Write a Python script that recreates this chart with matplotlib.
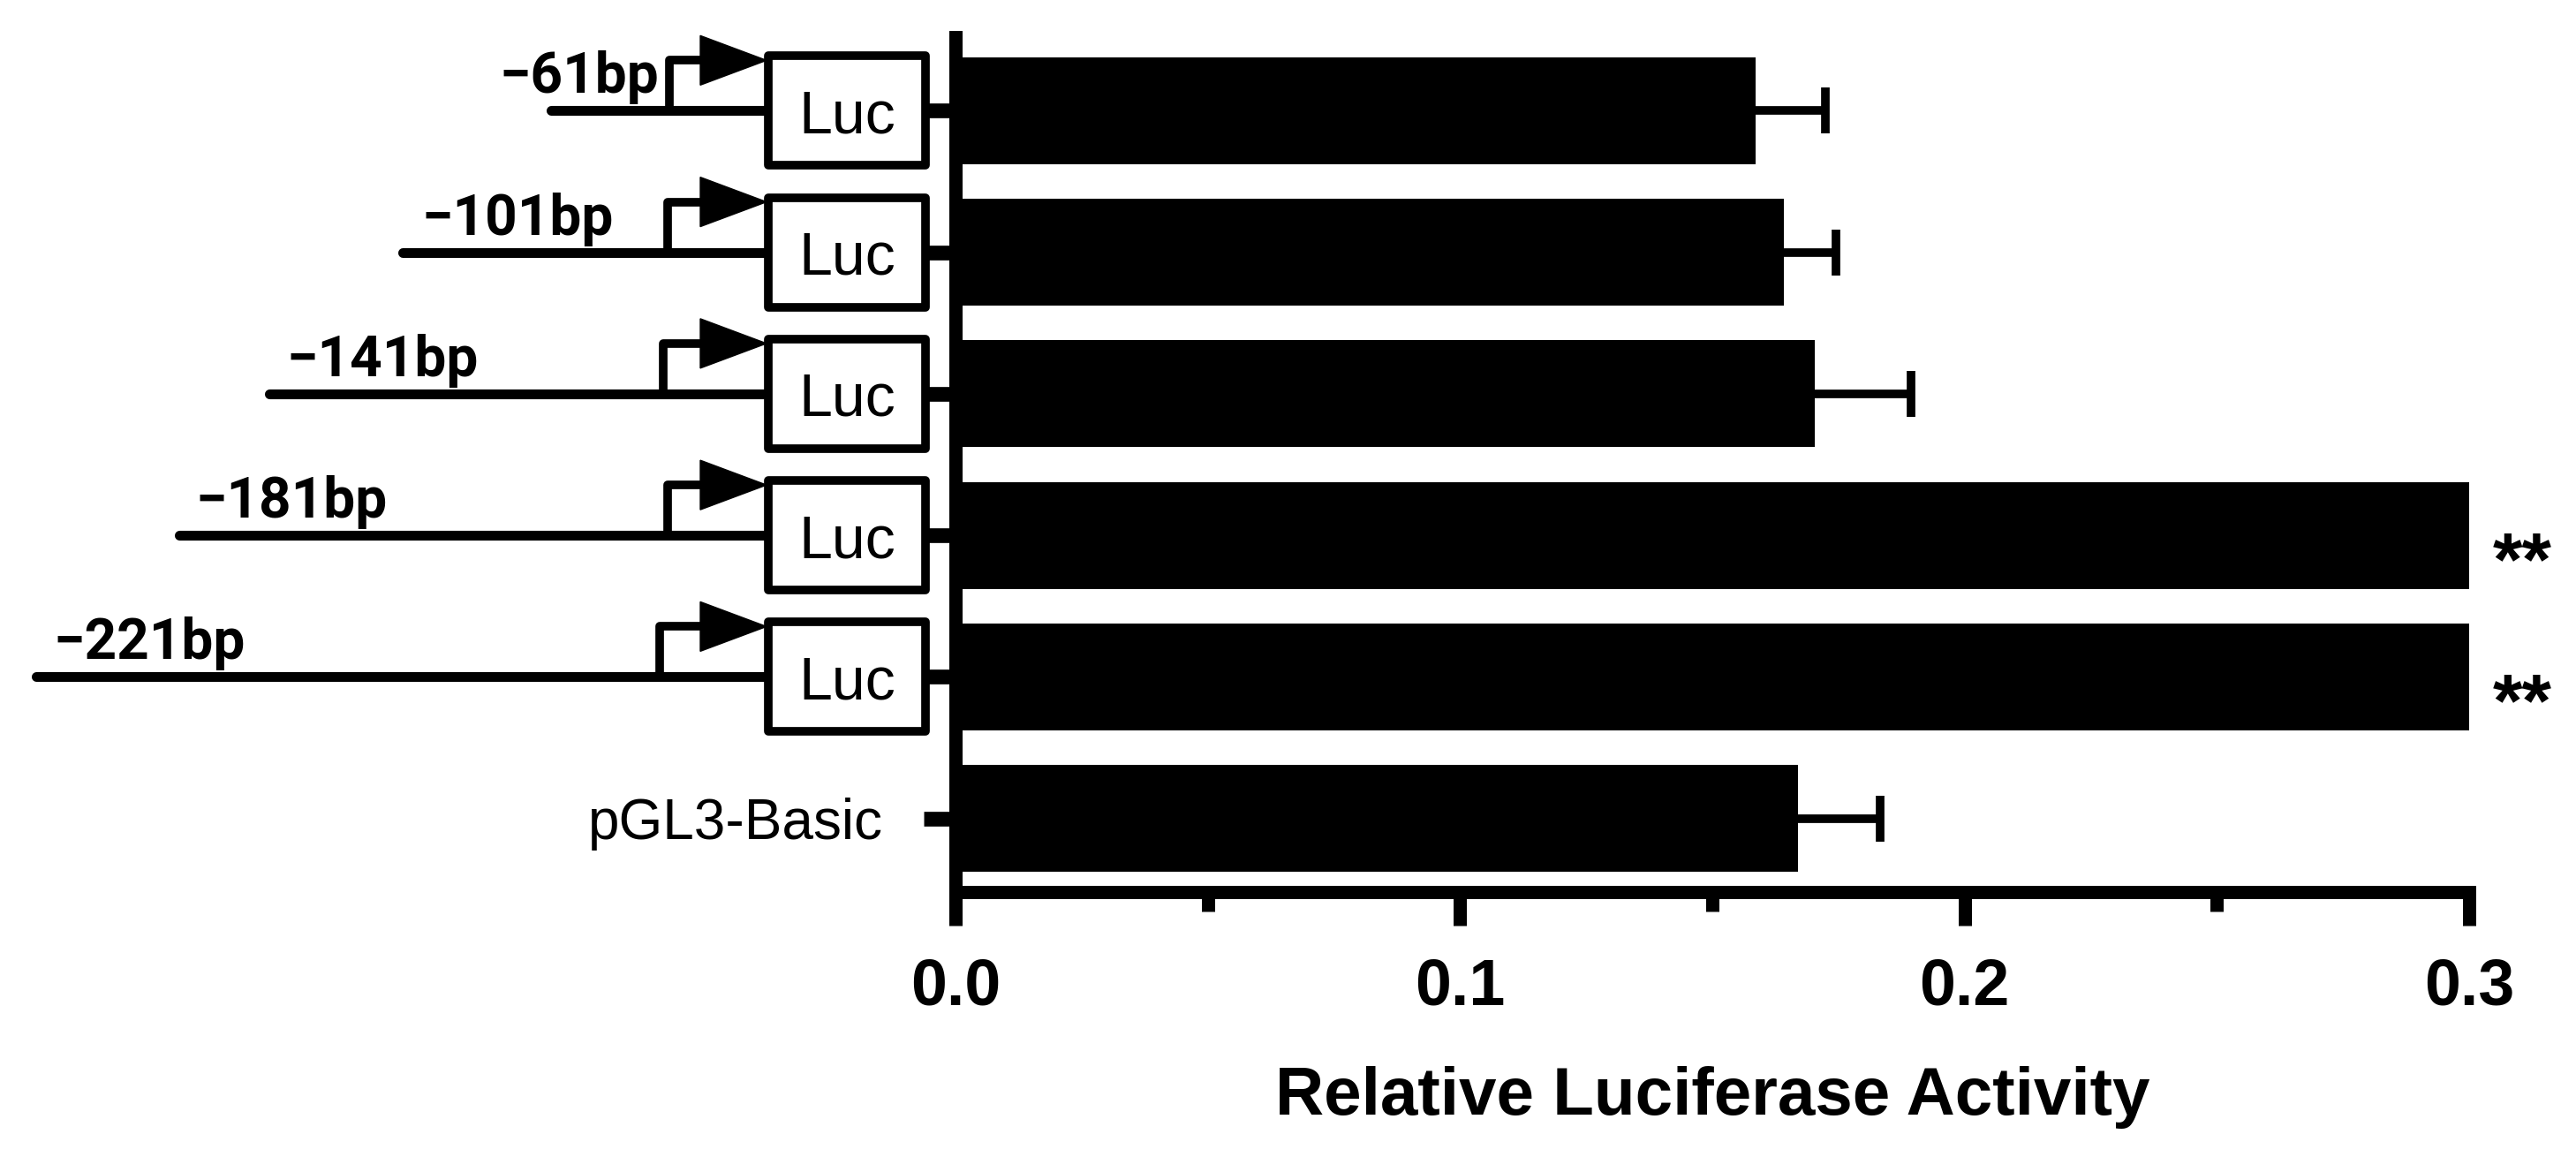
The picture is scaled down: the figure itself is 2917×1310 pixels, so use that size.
import matplotlib
matplotlib.use("Agg")
import matplotlib.pyplot as plt
from matplotlib.patches import Rectangle, Polygon

plt.rcParams['font.family'] = ['Liberation Sans', 'DejaVu Sans']

# ---------------- data ----------------
categories = ['−61bp', '−101bp', '−141bp', '−181bp', '−221bp', 'pGL3-Basic']
values = [0.1586, 0.1642, 0.1703, 0.300, 0.300, 0.1670]
errors = [0.0138, 0.0103, 0.0191, 0.0, 0.0, 0.0163]
significance = ['', '', '', '**', '**', '']
xticks_major = [0.0, 0.1, 0.2, 0.3]
xtick_labels = ['0.0', '0.1', '0.2', '0.3']
xticks_minor = [0.05, 0.15, 0.25]
xlabel = 'Relative Luciferase Activity'
box_text = 'Luc'

# ---------------- layout ----------------
W, H, DPI = 2917, 1310, 100
AX_L, AX_R, AX_T, AX_B = 1082, 2796, 42, 1010   # pixel frame of the plot axes
Y_TOP, Y_BOT = -0.52, 5.52
ROW_PX = (AX_B - AX_T) / (Y_BOT - Y_TOP)         # pixels per category row

# schematic (pixels along x, rows along y)
line_start_px = [624, 456, 305, 203, 41]
label_left_px = [565, 477, 324, 221, 60]
bend_px = [758, 756, 751, 756, 747]
box_left_px, box_right_px = 870, 1048
arrow_base_px, arrow_tip_px = 793, 868

fig = plt.figure(figsize=(W / DPI, H / DPI), dpi=DPI)
fig.patch.set_facecolor('white')

ax = fig.add_axes([AX_L / W, 1 - AX_B / H, (AX_R - AX_L) / W, (AX_B - AX_T) / H])
ypos = list(range(len(categories)))
ax.barh(ypos, values, height=0.755, color='black', zorder=2)

idx = [i for i, e in enumerate(errors) if e > 0]
eb = ax.errorbar([values[i] for i in idx], [ypos[i] for i in idx],
                 xerr=[[0] * len(idx), [errors[i] for i in idx]],
                 fmt='none', ecolor='black', elinewidth=7, capsize=19, capthick=7, zorder=1)
eb[1][0].set_visible(False)   # hide the caps sitting on the bar ends

ax.set_xlim(0, 0.3)
ax.set_ylim(Y_BOT, Y_TOP)
for s in ['top', 'right']:
    ax.spines[s].set_visible(False)
for s in ['left', 'bottom']:
    ax.spines[s].set_linewidth(10.8)

ax.set_xticks(xticks_major)
ax.set_xticklabels(xtick_labels, fontsize=53, fontweight='bold')
ax.set_xticks(xticks_minor, minor=True)
ax.tick_params(axis='x', which='major', length=27, width=10.8, pad=26)
ax.tick_params(axis='x', which='minor', length=16, width=10.8)
ax.set_yticks(ypos)
ax.set_yticklabels([''] * (len(categories) - 1) + [categories[-1]], fontsize=46)
ax.tick_params(axis='y', length=26, width=12, pad=33)
ax.set_xlabel(xlabel, fontsize=55, fontweight='bold', labelpad=39)

for i, s in enumerate(significance):
    if s:
        ax.annotate(s, xy=(0.3, ypos[i]), xytext=(19, -40), textcoords='offset points',
                    ha='left', va='baseline', fontsize=62, fontweight='bold',
                    annotation_clip=False)

# ---------------- schematic axes ----------------
axd = fig.add_axes([0, 1 - AX_B / H, AX_L / W, (AX_B - AX_T) / H])
axd.set_xlim(0, AX_L)
axd.set_ylim(Y_BOT, Y_TOP)
axd.axis('off')

box_half = 62 / ROW_PX
arrow_lvl = 57 / ROW_PX
tri_half = 28 / ROW_PX
label_off = 20 / ROW_PX
luc_base = 25 / ROW_PX

for i in range(5):
    yc = ypos[i]
    axd.plot([line_start_px[i], box_left_px], [yc, yc], color='black', lw=8,
             solid_capstyle='round', clip_on=False, zorder=2)
    axd.plot([bend_px[i], bend_px[i], arrow_base_px], [yc, yc - arrow_lvl, yc - arrow_lvl],
             color='black', lw=7, solid_joinstyle='round', clip_on=False, zorder=2)
    axd.add_patch(Polygon([(arrow_base_px, yc - arrow_lvl - tri_half),
                           (arrow_base_px, yc - arrow_lvl + tri_half),
                           (arrow_tip_px, yc - arrow_lvl)],
                          closed=True, fc='black', ec='black', lw=1, clip_on=False, zorder=3))
    axd.add_patch(Rectangle((box_left_px, yc - box_half), box_right_px - box_left_px, 2 * box_half,
                            fc='white', ec='black', lw=7, joinstyle='round', clip_on=False, zorder=4))
    axd.text((box_left_px + box_right_px) / 2, yc + luc_base, box_text, ha='center', va='baseline',
             fontsize=49, zorder=5, clip_on=False)
    axd.text(label_left_px[i], yc - label_off, categories[i], ha='left', va='baseline',
             fontsize=46, fontweight='bold', family=['Roboto', 'DejaVu Sans'],
             zorder=5, clip_on=False)

fig.savefig('out.png', dpi=DPI, facecolor='white')
